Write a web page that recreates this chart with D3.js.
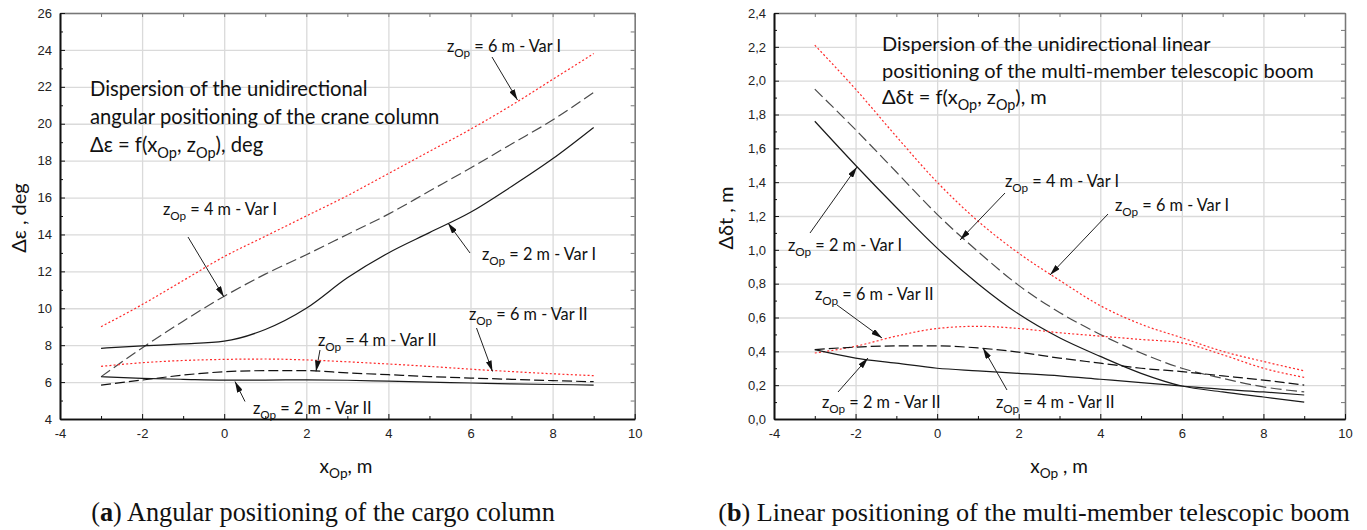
<!DOCTYPE html>
<html><head><meta charset="utf-8">
<script src="https://cdn.jsdelivr.net/npm/d3@7"></script>
<style>body{margin:0;background:#fff}svg{display:block}</style>
</head><body>
<svg id="c" width="1367" height="530"></svg>
<script>
// ---------- data ----------
const xValues = [-3,-2,-1,0,1,2,3,4,5,6,7,8,9];
const xTickValues = [-4,-2,0,2,4,6,8,10];
const xMinorTicks = [-3,-1,1,3,5,7,9];

// (a) angular positioning, deg
const angYTicks = [4,6,8,10,12,14,16,18,20,22,24,26];
const angYMinor = [5,7,9,11,13,15,17,19,21,23,25];
const angVarI_z6  = [9.0,10.2,11.5,12.8,13.9,15.0,16.1,17.3,18.5,19.7,21.0,22.4,23.8];
const angVarI_z4  = [6.29,7.85,9.3,10.65,11.85,12.9,14.0,15.1,16.35,17.6,18.9,20.2,21.7];
const angVarI_z2  = [7.83,7.96,8.07,8.22,8.85,10.0,11.65,13.0,14.1,15.2,16.6,18.1,19.8];
const angVarII_z6 = [6.85,7.05,7.17,7.23,7.25,7.2,7.1,6.98,6.85,6.7,6.57,6.45,6.35];
const angVarII_z4 = [5.84,6.11,6.38,6.56,6.62,6.62,6.5,6.4,6.3,6.22,6.15,6.08,6.02];
const angVarII_z2 = [6.29,6.2,6.15,6.11,6.11,6.12,6.1,6.05,6.0,5.95,5.9,5.87,5.84];

// (b) linear positioning, m
const linYTicks = [0,0.2,0.4,0.6,0.8,1.0,1.2,1.4,1.6,1.8,2.0,2.2,2.4];
const linYMinor = [0.1,0.3,0.5,0.7,0.9,1.1,1.3,1.5,1.7,1.9,2.1,2.3];
const linVarI_z6  = [2.21,1.95,1.67,1.40,1.17,0.98,0.82,0.67,0.56,0.48,0.40,0.34,0.285];
const linVarI_z4  = [1.95,1.71,1.46,1.21,0.99,0.79,0.63,0.50,0.39,0.30,0.24,0.19,0.16];
const linVarI_z2  = [1.76,1.50,1.25,1.01,0.80,0.62,0.48,0.37,0.27,0.195,0.16,0.13,0.10];
const linVarII_z6 = [0.39,0.43,0.49,0.535,0.548,0.535,0.51,0.49,0.47,0.45,0.38,0.30,0.246];
const linVarII_z4 = [0.41,0.425,0.432,0.432,0.42,0.395,0.36,0.33,0.30,0.28,0.255,0.23,0.20];
const linVarII_z2 = [0.41,0.36,0.33,0.30,0.285,0.27,0.255,0.235,0.215,0.195,0.175,0.16,0.142];

// ---------- styles ----------
const RED = {color:"#ff2a2a", w:1.2, dash:"2,2.2"};
const GDASH = {color:"#4a4a4a", w:1.2, dash:"11,4.5"};
const BDASH = {color:"#111", w:1.2, dash:"10,4"};
const SOLID = {color:"#1a1a1a", w:1.2, dash:null};

const svg = d3.select("#c");
const defs = svg.append("defs");
defs.append("marker").attr("id","arr").attr("viewBox","0 0 11 6")
  .attr("refX",11).attr("refY",3).attr("markerWidth",11).attr("markerHeight",6)
  .attr("markerUnits","userSpaceOnUse").attr("orient","auto")
  .append("path").attr("d","M0,0L11,3L0,6Z").attr("fill","#111");

const LABEL_FONT = "Lato, 'Open Sans', sans-serif";
const TICK_FONT = "'Liberation Sans', Arial, sans-serif";

function richText(g, x, y, parts, size, anchor) {
  const t = g.append("text").attr("x",x).attr("y",y)
    .attr("font-family",LABEL_FONT).attr("font-size",size).attr("fill","#111")
    .attr("text-anchor",anchor||"start");
  let shift = 0;
  parts.forEach(p => {
    const sub = p[1] === "sub";
    const target = sub ? size*0.28 : 0;
    const ts = t.append("tspan").text(p[0]).attr("dy", target - shift);
    if (sub) ts.attr("font-size", size*0.72);
    shift = target;
  });
  return t;
}
const zLabel = rest => [["z"],["Op","sub"],[rest]];

function arrow(g, x1,y1,x2,y2){
  g.append("line").attr("x1",x1).attr("y1",y1).attr("x2",x2).attr("y2",y2)
   .attr("stroke","#222").attr("stroke-width",1).attr("marker-end","url(#arr)");
}

function drawPanel(p) {
  const x = d3.scaleLinear().domain([-4,10]).range([p.left,p.right]);
  const y = d3.scaleLinear().domain(p.yDomain).range([p.bottom,p.top]);
  const W = p.right-p.left, H = p.bottom-p.top;
  const g = svg.append("g");
  const gridStyle = s => { s.select(".domain").remove(); s.selectAll("line").attr("stroke","#dadada").attr("stroke-width",1.3); };
  g.append("g").attr("transform",`translate(0,${p.bottom})`)
    .call(d3.axisBottom(x).tickValues(xTickValues).tickSize(-H).tickFormat("")).call(gridStyle);
  g.append("g").attr("transform",`translate(${p.left},0)`)
    .call(d3.axisLeft(y).tickValues(p.yTicks).tickSize(-W).tickFormat("")).call(gridStyle);

  const line = d3.line().x((d,i)=>x(xValues[i])).y(d=>y(d)).curve(d3.curveMonotoneX);
  p.series.forEach(s => {
    g.append("path").attr("d",line(s.values)).attr("fill","none")
     .attr("stroke",s.style.color).attr("stroke-width",s.style.w)
     .attr("stroke-dasharray",s.style.dash);
  });

  const axStyle = (col,w) => s => {
    s.select(".domain").attr("stroke",col).attr("stroke-width",w);
    s.selectAll(".tick line").attr("stroke",col).attr("stroke-width",1);
    s.selectAll("text").attr("font-family",TICK_FONT).attr("font-size",13).attr("fill","#222");
  };
  // top & right (gray)
  g.append("g").attr("transform",`translate(0,${p.top})`)
    .call(d3.axisTop(x).tickValues(xTickValues.concat(xMinorTicks)).tickSize(-4).tickSizeOuter(0).tickFormat("")).call(axStyle("#777",1.5));
  g.append("g").attr("transform",`translate(${p.right},0)`)
    .call(d3.axisRight(y).tickValues(p.yTicks.concat(p.yMinor)).tickSize(-4).tickSizeOuter(0).tickFormat("")).call(axStyle("#777",1.5));
  // bottom
  g.append("g").attr("transform",`translate(0,${p.bottom})`)
    .call(d3.axisBottom(x).tickValues(xMinorTicks).tickSize(-3).tickSizeOuter(0).tickFormat("")).call(axStyle("#111",1.6));
  g.append("g").attr("transform",`translate(0,${p.bottom})`)
    .call(d3.axisBottom(x).tickValues(xTickValues).tickSize(-5).tickSizeOuter(0).tickPadding(10).tickFormat(d=>String(d))).call(axStyle("#111",1.6));
  // left
  g.append("g").attr("transform",`translate(${p.left},0)`)
    .call(d3.axisLeft(y).tickValues(p.yMinor).tickSize(-3).tickSizeOuter(0).tickFormat("")).call(axStyle("#111",1.6));
  g.append("g").attr("transform",`translate(${p.left},0)`)
    .call(d3.axisLeft(y).tickValues(p.yTicks).tickSize(-5).tickSizeOuter(0).tickPadding(8).tickFormat(p.fmt)).call(axStyle("#111",1.6));

  // titles
  richText(g, 0, 0, p.yTitle, 20, "middle").attr("transform",`translate(${p.yTitleX},${(p.top+p.bottom)/2+2}) rotate(-90)`);
  richText(g, p.xTitleX, 473, p.xTitle, 19, "middle");
  // annotation block
  p.note.forEach((ln,i) => richText(g, p.noteX, p.noteY + i*p.noteDy, ln, p.noteSize));
  // labels
  p.labels.forEach(l => { richText(g, l.tx, l.ty, zLabel(l.text), 16.3); arrow(g, l.a[0],l.a[1],l.a[2],l.a[3]); });
  return g;
}

drawPanel({
  left:60, right:634.7, top:13, bottom:419, yDomain:[4,26],
  yTicks:angYTicks, yMinor:angYMinor, fmt:d=>String(d),
  series:[
    {values:angVarI_z6, style:RED},{values:angVarI_z4, style:GDASH},{values:angVarI_z2, style:SOLID},
    {values:angVarII_z6, style:RED},{values:angVarII_z4, style:BDASH},{values:angVarII_z2, style:SOLID}
  ],
  yTitle:[["Δε , deg"]], yTitleX:26,
  xTitle:[["x"],["Op","sub"],[", m"]], xTitleX:346,
  noteX:90, noteY:96, noteDy:28, noteSize:20.2,
  note:[[["Dispersion of the unidirectional"]],[["angular positioning of the crane column"]],
        [["Δε = f(x"],["Op","sub"],[", z"],["Op","sub"],["), deg"]]],
  labels:[
    {text:" = 6 m - Var I", tx:447, ty:52, a:[492,57,517.5,100]},
    {text:" = 4 m - Var I", tx:163, ty:215, a:[188,237,224,297]},
    {text:" = 2 m - Var I", tx:482, ty:260, a:[470,253,448,223]},
    {text:" = 4 m - Var II", tx:318, ty:346, a:[320,350,316,371.5]},
    {text:" = 6 m - Var II", tx:469, ty:320, a:[476.5,328,492.5,371.5]},
    {text:" = 2 m - Var II", tx:253, ty:414, a:[245,401.5,235,381.5]}
  ]
});

drawPanel({
  left:774, right:1345, top:13, bottom:419, yDomain:[0,2.4],
  yTicks:linYTicks, yMinor:linYMinor, fmt:d=>d3.format(".1f")(d).replace(".",","),
  series:[
    {values:linVarI_z6, style:RED},{values:linVarI_z4, style:GDASH},{values:linVarI_z2, style:SOLID},
    {values:linVarII_z6, style:RED},{values:linVarII_z4, style:BDASH},{values:linVarII_z2, style:SOLID}
  ],
  yTitle:[["Δδt , m"]], yTitleX:733,
  xTitle:[["x"],["Op","sub"],[" , m"]], xTitleX:1059,
  noteX:882, noteY:51, noteDy:26.5, noteSize:20,
  note:[[["Dispersion of the unidirectional linear"]],[["positioning of the multi-member telescopic boom"]],
        [["Δδt = f(x"],["Op","sub"],[", z"],["Op","sub"],["), m"]]],
  labels:[
    {text:" = 4 m - Var I", tx:1005, ty:187, a:[1005,193,960,240]},
    {text:" = 6 m - Var I", tx:1115, ty:211, a:[1108,214,1050,275]},
    {text:" = 2 m - Var I", tx:788, ty:251, a:[810,233,857,167]},
    {text:" = 6 m - Var II", tx:815, ty:300, a:[837,305,882,338]},
    {text:" = 2 m - Var II", tx:822, ty:408, a:[838,392,868,358]},
    {text:" = 4 m - Var II", tx:996, ty:408, a:[1007,390,983,348]}
  ]
});

// captions
function caption(cx, width, letter, rest) {
  const t = svg.append("text").attr("x",cx).attr("y",521).attr("text-anchor","middle")
    .attr("font-family","'Liberation Serif','Times New Roman',serif").attr("font-size",20).attr("fill","#111");
  t.append("tspan").text("(");
  t.append("tspan").text(letter).attr("font-weight","bold");
  t.append("tspan").text(") " + rest);
  const w = t.node().getComputedTextLength();
  t.attr("font-size", 20*width/w);
}
caption(323, 464, "a", "Angular positioning of the cargo column");
caption(1034, 632, "b", "Linear positioning of the multi-member telescopic boom");
</script>
</body></html>
